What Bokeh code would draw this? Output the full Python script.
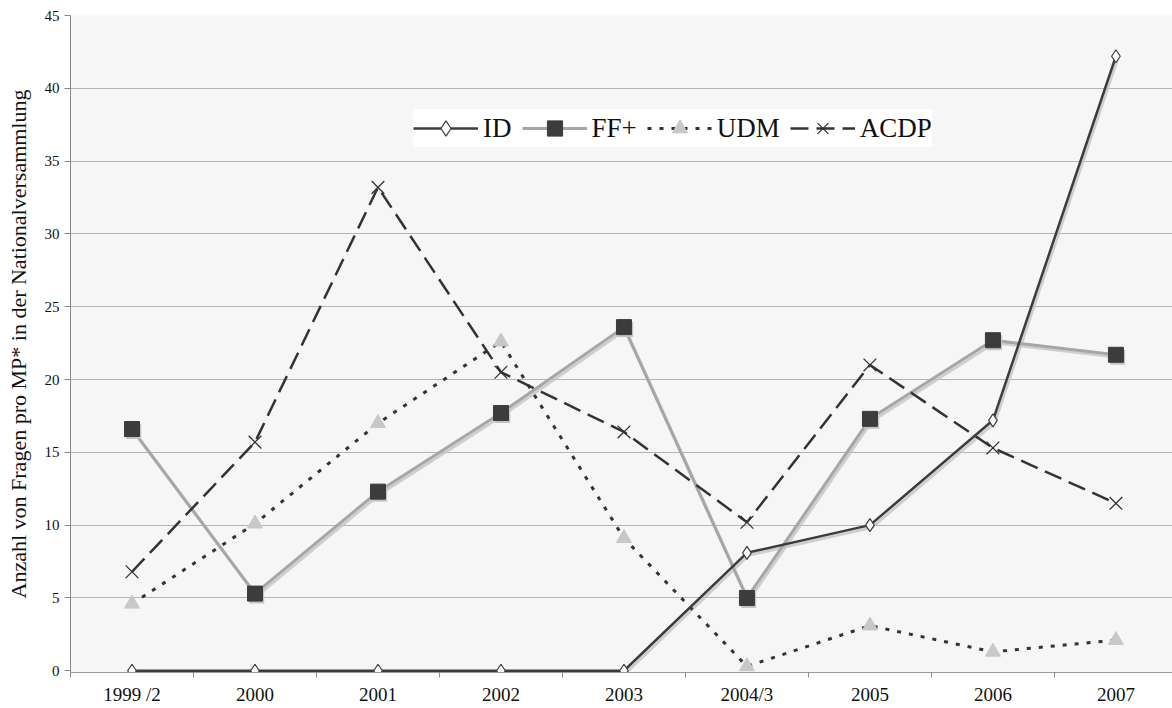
from bokeh.plotting import figure
from bokeh.models import FixedTicker, Legend, LegendItem
from bokeh.embed import file_html
from bokeh.resources import INLINE

years = ["1999 /2", "2000", "2001", "2002", "2003", "2004/3", "2005", "2006", "2007"]
id_vals = [0, 0, 0, 0, 0, 8.1, 10.0, 17.2, 42.2]
ff_vals = [16.6, 5.3, 12.3, 17.7, 23.6, 5.0, 17.3, 22.7, 21.7]
udm_vals = [4.6, 10.1, 17.0, 22.6, 9.1, 0.3, 3.1, 1.3, 2.1]
acdp_vals = [6.8, 15.7, 33.2, 20.5, 16.4, 10.2, 21.0, 15.3, 11.5]
y_ticks = [0, 5, 10, 15, 20, 25, 30, 35, 40, 45]

FONT = "Liberation Serif"
x = list(range(len(years)))

p = figure(width=1172, height=708, x_range=(-0.5, 8.46), y_range=(-0.12, 45),
           output_backend="svg", toolbar_location=None,
           min_border_left=70, min_border_right=0, min_border_top=15, min_border_bottom=36)
p.background_fill_color = "#f6f6f6"
p.border_fill_color = "white"
p.outline_line_color = None

# axes
p.xaxis.ticker = FixedTicker(ticks=x, minor_ticks=[i - 0.5 for i in range(len(years) + 1)])
p.xaxis.major_label_overrides = {i: s for i, s in enumerate(years)}
p.xaxis.major_tick_out = 0
p.xaxis.major_tick_in = 0
p.xaxis.minor_tick_out = 5
p.xaxis.minor_tick_in = 0
p.xaxis.minor_tick_line_color = "#888888"
p.xaxis.axis_line_color = "#999999"
p.xaxis.major_label_text_font = FONT
p.xaxis.major_label_text_font_size = "19px"
p.xaxis.major_label_text_color = "#111111"
p.xaxis.major_label_standoff = 6

p.yaxis.ticker = FixedTicker(ticks=y_ticks)
p.yaxis.minor_tick_line_color = None
p.yaxis.major_tick_out = 6
p.yaxis.major_tick_in = 0
p.yaxis.major_tick_line_color = "#888888"
p.yaxis.axis_line_color = "#888888"
p.yaxis.major_label_text_font = FONT
p.yaxis.major_label_text_font_size = "15px"
p.yaxis.major_label_text_color = "#111111"
p.yaxis.major_label_standoff = 5
p.yaxis.axis_label = "Anzahl von Fragen pro MP* in der Nationalversammlung"
p.yaxis.axis_label_text_font = FONT
p.yaxis.axis_label_text_font_size = "22px"
p.yaxis.axis_label_text_font_style = "normal"
p.yaxis.axis_label_text_color = "#111111"
p.yaxis.axis_label_standoff = 11

p.xgrid.grid_line_color = None
p.ygrid.ticker = FixedTicker(ticks=y_ticks[1:])
p.ygrid.grid_line_color = "#b4b4b4"
p.ygrid.grid_line_width = 1

# shadows
dx, dy = 0.014, -0.17
def shadow(vals, w):
    p.line([xi + dx for xi in x], [v + dy for v in vals], line_color="#c4c4c4",
           line_width=w, line_alpha=0.8)

shadow(ff_vals, 3)
shadow(id_vals, 3)

# FF+
ff_l = p.line(x, ff_vals, line_color="#a6a6a6", line_width=3)
p.scatter([xi + dx for xi in x], [v + dy for v in ff_vals], marker="square", size=15,
          fill_color="#c4c4c4", line_color=None)
ff_m = p.scatter(x, ff_vals, marker="square", size=15, fill_color="#3c3c3c", line_color="#3c3c3c")

# UDM
udm_l = p.line(x, udm_vals, line_color="#333333", line_width=3, line_dash="4 8")
udm_m = p.scatter(x, udm_vals, marker="triangle", size=15, fill_color="#c8c8c8", line_color="#c8c8c8")

# ACDP
acdp_l = p.line(x, acdp_vals, line_color="#333333", line_width=2.5, line_dash="18 8")
acdp_m = p.scatter(x, acdp_vals, marker="x", size=18, line_color="#333333", line_width=1.3)

# ID
id_l = p.line(x, id_vals, line_color="#3c3c3c", line_width=2.5)
id_m = p.scatter(x, id_vals, marker="diamond", size=13, fill_color="white", line_color="#3c3c3c",
                 line_width=1.2)

legend = Legend(items=[
    LegendItem(label="ID", renderers=[id_l, id_m]),
    LegendItem(label="FF+", renderers=[ff_l, ff_m]),
    LegendItem(label="UDM", renderers=[udm_l, udm_m]),
    LegendItem(label="ACDP", renderers=[acdp_l, acdp_m]),
], orientation="horizontal", location=(343, 525))
legend.label_text_font = FONT
legend.label_text_font_size = "27px"
legend.label_text_color = "#111111"
legend.glyph_width = 65
legend.glyph_height = 38
legend.label_standoff = 5
legend.spacing = 10
legend.padding = 6
legend.margin = 0
legend.background_fill_color = "white"
legend.background_fill_alpha = 1
legend.border_line_color = None
p.add_layout(legend, "center")

open("out.html", "w").write(file_html(p, INLINE))
